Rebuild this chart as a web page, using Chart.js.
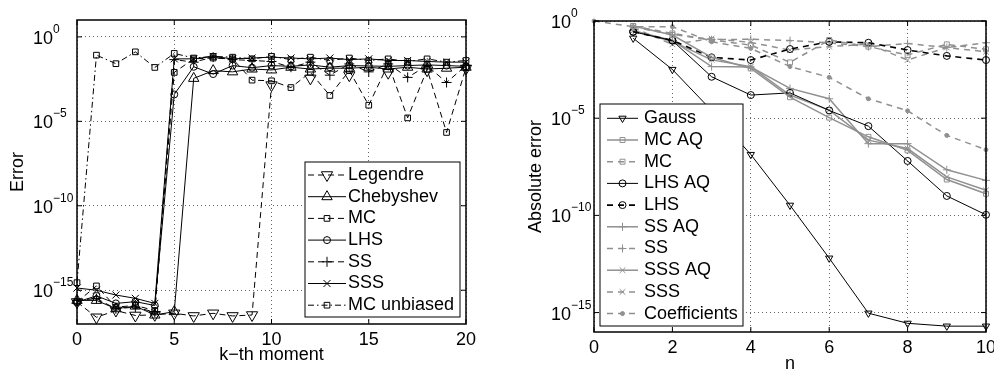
<!DOCTYPE html>
<html>
<head>
<meta charset="utf-8">
<script src="https://cdn.jsdelivr.net/npm/chart.js@4.4.1/dist/chart.umd.min.js"></script>
<style>
  html, body { margin: 0; padding: 0; background: #fff; }
  #wrap { position: relative; width: 994px; height: 372px; }
  canvas { position: absolute; top: 0; }
  #left { left: 0; }
  #right { left: 497px; }
</style>
</head>
<body>
<div id="wrap">
  <canvas id="left" width="497" height="372"></canvas>
  <canvas id="right" width="497" height="372"></canvas>
</div>
<script>
// ---------- left plot: error of the k-th moment ----------
const kVals = [0, 1, 2, 3, 4, 5, 6, 7, 8, 9, 10, 11, 12, 13, 14, 15, 16, 17, 18, 19, 20];
const leftXTicks = [0, 5, 10, 15, 20];
const leftYTicks = [1e-15, 1e-10, 1e-5, 1];

const legendreErr = [2e-16, 2.5e-17, 6.3e-17, 3.2e-17, 3.5e-17, 4.3e-17, 3e-17, 4.3e-17, 3e-17, 3.4e-17,
  1.4e-3, null, 3.5e-3, null, 5.4e-3, null, 7.6e-3, null, 1.07e-2, null, 1.35e-2];
const chebyshevErr = [2.5e-16, 2.5e-16, 8e-17, 1.15e-16, 3.4e-17, 5.4e-17, 3.5e-3, 1e-2, 8.5e-3, 1.25e-2,
  1.1e-2, 1.6e-2, 1.25e-2, 1.4e-2, 1.4e-2, 1.6e-2, 1.25e-2, 1.6e-2, 1.25e-2, 1.4e-2, 1.6e-2];
const mcErr = [2e-16, 1.8e-15, 1e-16, 1.25e-16, 6.3e-17, 7.9e-3, 5e-2, 5.6e-2, 5e-2, 2.75e-3,
  2.5e-3, 1e-3, 8e-3, 3.4e-4, 1e-2, 9e-5, 2.5e-2, 1.6e-5, 1.2e-2, 2.2e-6, 1.5e-2];
const lhsErr = [2e-16, 4.6e-16, 1.66e-16, 2.1e-16, 1.25e-16, 3.9e-4, 1.7e-2, 6.3e-3, 2e-2, 1.5e-2,
  2e-2, 1.8e-2, 2.2e-2, 1.6e-2, 2e-2, 1.9e-2, 1.8e-2, 2e-2, 2.2e-2, 2e-2, 1.8e-2];
const ssErr = [2.5e-16, 3.2e-16, 8e-17, 1e-16, 5e-17, 4.5e-2, 3.2e-2, 6.3e-2, 4.5e-2, 4e-2,
  3.5e-2, 1.6e-2, 3.2e-2, 5.4e-3, 2.5e-2, 8.5e-3, 2.5e-2, 4e-3, 2e-2, 2e-3, 2e-2];
const sssErr = [1.35e-15, 1e-15, 5.2e-16, 3.3e-16, 1.66e-16, 5e-2, 5e-2, 7e-2, 5e-2, 5.6e-2,
  6.3e-2, 5.6e-2, 5e-2, 5.6e-2, 4.5e-2, 5e-2, 4e-2, 4e-2, 3.5e-2, 3.2e-2, 3.2e-2];
const mcUnbiasedErr = [2.8e-15, 8.3e-2, 2.6e-2, 0.13, 1.55e-2, 0.105, 5.6e-2, 7e-2, 6.3e-2, 5e-2,
  7e-2, 4.5e-2, 6.3e-2, 4e-2, 5.6e-2, 4e-2, 5e-2, 3.5e-2, 5e-2, 3.2e-2, 4e-2];

// ---------- right plot: absolute error vs n ----------
const nVals = [0, 1, 2, 3, 4, 5, 6, 7, 8, 9, 10];
const rightYTicks = [1e-15, 1e-10, 1e-5, 1];

const gaussErr = [null, 0.13, 3.2e-3, 2.5e-5, 1.35e-7, 3.3e-10, 6.3e-13, 9.3e-16, 2.8e-16, 2e-16, 2e-16];
const mcAqErr = [null, 0.55, 0.19, 1.35e-2, 3.6e-3, 1.2e-4, 1.07e-5, 1.1e-6, 2.2e-7, 7e-9, 1.3e-9];
const mcErr2 = [null, 0.55, 0.23, 0.105, 5.8e-2, 7.4e-3, 0.105, 4.8e-2, 1.8e-2, 6.3e-2, 3.5e-2];
const lhsAqErr = [null, 0.28, 9.8e-2, 1.35e-3, 1.55e-4, 2e-4, 2.5e-5, 3.9e-6, 6.3e-8, 1e-9, 1.07e-10];
const lhsErr2 = [null, 0.28, 0.1, 1.35e-2, 9.8e-3, 3.6e-2, 8.5e-2, 7.6e-2, 3.2e-2, 1.6e-2, 9.8e-3];
const ssAqErr = [null, 0.32, 0.1, 4.5e-3, 4.3e-3, 3.4e-4, 1e-4, 4.9e-7, 4.9e-7, 2.2e-8, 6.3e-9];
const ssErr2 = [null, 0.5, 0.2, 0.11, 0.115, 9.8e-2, 7.6e-2, 4.8e-2, 7e-2, 4.3e-2, 7.6e-2];
const sssAqErr = [null, 0.32, 8.9e-2, 1e-2, 4.5e-3, 1.55e-4, 2.6e-5, 7.4e-7, 2.75e-7, 9.5e-9, 1.95e-9];
const sssErr2 = [null, 0.45, 6.3e-2, 0.125, 7.9e-2, 3.2e-2, 4.8e-2, 6.5e-2, 9.8e-3, 4.3e-2, 2.6e-2];
const coeffErr = [1, 0.51, 0.51, 8.5e-2, 3.9e-2, 4.5e-3, 1.26e-3, 1e-4, 2.4e-5, 1.3e-6, 2.4e-7];

const FONT = '"Liberation Sans", Arial, Helvetica, sans-serif';
const GRAY = '#909090';
const NOFILL = 'rgba(0,0,0,0)';
const DASH = [6, 4];

Chart.defaults.font.family = FONT;
Chart.defaults.font.size = 18;
Chart.defaults.color = '#000';

function pts(xs, ys) {
  return xs.map((x, i) => ({ x: x, y: ys[i] }));
}

function series(label, xs, ys, color, width, dash, style, radius, rot, fill) {
  return {
    label: label,
    data: pts(xs, ys),
    borderColor: color,
    borderWidth: width,
    borderDash: dash,
    pointStyle: style,
    pointRadius: radius,
    pointHoverRadius: radius,
    pointRotation: rot,
    pointBorderColor: color,
    pointBorderWidth: 1,
    pointBackgroundColor: fill || NOFILL,
    backgroundColor: NOFILL,
    fill: false,
    tension: 0,
    clip: false
  };
}

// box, inward ticks, 10^x labels and the in-plot legend
const framePlugin = {
  id: 'frame',
  afterDraw(chart, args, opts) {
    const ctx = chart.ctx, a = chart.chartArea;
    const xs = chart.scales.x, ys = chart.scales.y;
    ctx.save();
    ctx.strokeStyle = '#000';
    ctx.lineWidth = 1;
    ctx.beginPath();
    xs.ticks.forEach(t => {
      const px = xs.getPixelForValue(t.value);
      ctx.moveTo(px, a.bottom); ctx.lineTo(px, a.bottom - 5);
      ctx.moveTo(px, a.top); ctx.lineTo(px, a.top + 5);
    });
    ys.ticks.forEach(t => {
      const py = ys.getPixelForValue(t.value);
      ctx.moveTo(a.left, py); ctx.lineTo(a.left + 5, py);
      ctx.moveTo(a.right, py); ctx.lineTo(a.right - 5, py);
    });
    ctx.stroke();
    ctx.lineWidth = 1.5;
    ctx.strokeRect(a.left, a.top, a.right - a.left, a.bottom - a.top);

    // y tick labels like 10^-5
    ctx.fillStyle = '#000';
    ctx.textAlign = 'left';
    ctx.textBaseline = 'alphabetic';
    ys.ticks.forEach(t => {
      const py = ys.getPixelForValue(t.value);
      ctx.font = '18px ' + FONT;
      ctx.fillText('10', opts.labelX, py + 7);
      const w = ctx.measureText('10').width;
      const e = Math.round(Math.log10(t.value));
      ctx.font = '12px ' + FONT;
      ctx.fillText(e === 0 ? '0' : '\u2212' + Math.abs(e), opts.labelX + w, py - 4);
    });

    // legend
    const L = opts.legend;
    ctx.fillStyle = '#fff';
    ctx.fillRect(L.x0, L.y0, L.x1 - L.x0, L.y1 - L.y0);
    ctx.lineWidth = 1;
    ctx.strokeStyle = '#000';
    ctx.strokeRect(L.x0, L.y0, L.x1 - L.x0, L.y1 - L.y0);
    chart.data.datasets.forEach((ds, i) => {
      const y = L.rowY + i * L.rowStep;
      ctx.save();
      ctx.strokeStyle = ds.borderColor;
      ctx.lineWidth = ds.borderWidth;
      ctx.setLineDash(ds.borderDash || []);
      ctx.beginPath();
      ctx.moveTo(L.lineX0, y);
      ctx.lineTo(L.lineX1, y);
      ctx.stroke();
      ctx.setLineDash([]);
      ctx.fillStyle = ds.pointBackgroundColor;
      ctx.strokeStyle = ds.pointBorderColor;
      ctx.lineWidth = 1;
      Chart.helpers.drawPoint(ctx, {
        pointStyle: ds.pointStyle, radius: ds.pointRadius,
        rotation: ds.pointRotation || 0, borderWidth: 1
      }, (L.lineX0 + L.lineX1) / 2, y);
      ctx.restore();
      ctx.fillStyle = '#000';
      ctx.font = '18px ' + FONT;
      ctx.textBaseline = 'middle';
      ctx.textAlign = 'left';
      ctx.fillText(ds.label, L.textX, y);
    });
    ctx.restore();
  }
};

function axes(cfg) {
  return {
    x: {
      type: 'linear', min: cfg.xmin, max: cfg.xmax,
      ticks: { stepSize: cfg.xstep, padding: 5, maxRotation: 0, autoSkip: false, color: '#000', font: { size: 18 } },
      grid: { drawTicks: false, color: '#666', lineWidth: 1 },
      border: { display: false, dash: [1, 3] },
      title: { display: true, text: cfg.xtitle, color: '#000', font: { size: 18 }, padding: { top: 0, bottom: cfg.xtitlePad } },
      afterFit: s => { s.height = cfg.xh; s.paddingLeft = 0; s.paddingRight = 0; }
    },
    y: {
      type: 'logarithmic', min: cfg.ymin, max: cfg.ymax,
      afterBuildTicks: s => { s.ticks = cfg.yticks.map(v => ({ value: v })); },
      ticks: { display: false },
      grid: { drawTicks: false, color: '#666', lineWidth: 1 },
      border: { display: false, dash: [1, 3] },
      title: { display: true, text: cfg.ytitle, color: '#000', font: { size: 18 }, padding: { top: cfg.ytitlePad, bottom: 0 } },
      afterFit: s => { s.width = cfg.yw; s.paddingTop = 0; s.paddingBottom = 0; }
    }
  };
}

new Chart(document.getElementById('left'), {
  type: 'line',
  data: {
    datasets: [
      series('Legendre', kVals, legendreErr, '#000', 1, DASH, 'triangle', 6.5, 180),
      series('Chebyshev', kVals, chebyshevErr, '#000', 1, [], 'triangle', 6, 0),
      series('MC', kVals, mcErr, '#000', 1, DASH, 'rect', 4, 0),
      series('LHS', kVals, lhsErr, '#000', 1, [], 'circle', 3.5, 0),
      series('SS', kVals, ssErr, '#000', 1, DASH, 'cross', 5, 0),
      series('SSS', kVals, sssErr, '#000', 1, [], 'crossRot', 5, 0),
      series('MC unbiased', kVals, mcUnbiasedErr, '#000', 1, [6, 3, 1.5, 3], 'rect', 4, 0)
    ]
  },
  options: {
    responsive: false,
    animation: false,
    devicePixelRatio: 1,
    layout: { autoPadding: false, padding: { left: 0, top: 20, right: 31, bottom: 0 } },
    plugins: {
      legend: { display: false },
      tooltip: { enabled: false },
      frame: {
        labelX: 33,
        legend: { x0: 305, y0: 162, x1: 460, y1: 317, rowY: 175, rowStep: 21.7, lineX0: 308, lineX1: 346, textX: 348 }
      }
    },
    scales: axes({
      xmin: 0, xmax: 20, xstep: 5, xtitle: 'k\u2212th moment', xtitlePad: 6, xh: 48,
      ymin: 1e-17, ymax: 10, yticks: leftYTicks, ytitle: 'Error', ytitlePad: 7, yw: 77
    })
  },
  plugins: [framePlugin]
});

new Chart(document.getElementById('right'), {
  type: 'line',
  data: {
    datasets: [
      series('Gauss', nVals, gaussErr, '#000', 1, [], 'triangle', 4.2, 180),
      series('MC AQ', nVals, mcAqErr, GRAY, 1.5, [], 'rect', 3.5, 0),
      series('MC', nVals, mcErr2, GRAY, 1.5, [6, 5], 'rect', 3.5, 0),
      series('LHS AQ', nVals, lhsAqErr, '#000', 1, [], 'circle', 3.5, 0),
      series('LHS', nVals, lhsErr2, '#000', 1.6, [6, 5], 'circle', 3.5, 0),
      series('SS AQ', nVals, ssAqErr, GRAY, 1.5, [], 'cross', 4, 0),
      series('SS', nVals, ssErr2, GRAY, 1.5, [6, 5], 'cross', 4, 0),
      series('SSS AQ', nVals, sssAqErr, GRAY, 1.5, [], 'crossRot', 4, 0),
      series('SSS', nVals, sssErr2, GRAY, 1.5, [6, 5], 'crossRot', 4, 0),
      series('Coefficients', nVals, coeffErr, GRAY, 1.5, [6, 5], 'circle', 2, 0, GRAY)
    ]
  },
  options: {
    responsive: false,
    animation: false,
    devicePixelRatio: 1,
    layout: { autoPadding: false, padding: { left: 0, top: 21, right: 8, bottom: 0 } },
    plugins: {
      legend: { display: false },
      tooltip: { enabled: false },
      frame: {
        labelX: 54,
        legend: { x0: 103, y0: 104, x1: 246, y1: 326, rowY: 118.3, rowStep: 21.7, lineX0: 110, lineX1: 141, textX: 147 }
      }
    },
    scales: axes({
      xmin: 0, xmax: 10, xstep: 2, xtitle: 'n', xtitlePad: -3, xh: 40,
      ymin: 1e-16, ymax: 1, yticks: rightYTicks, ytitle: 'Absolute error', ytitlePad: 28, yw: 97
    })
  },
  plugins: [framePlugin]
});
</script>
</body>
</html>
